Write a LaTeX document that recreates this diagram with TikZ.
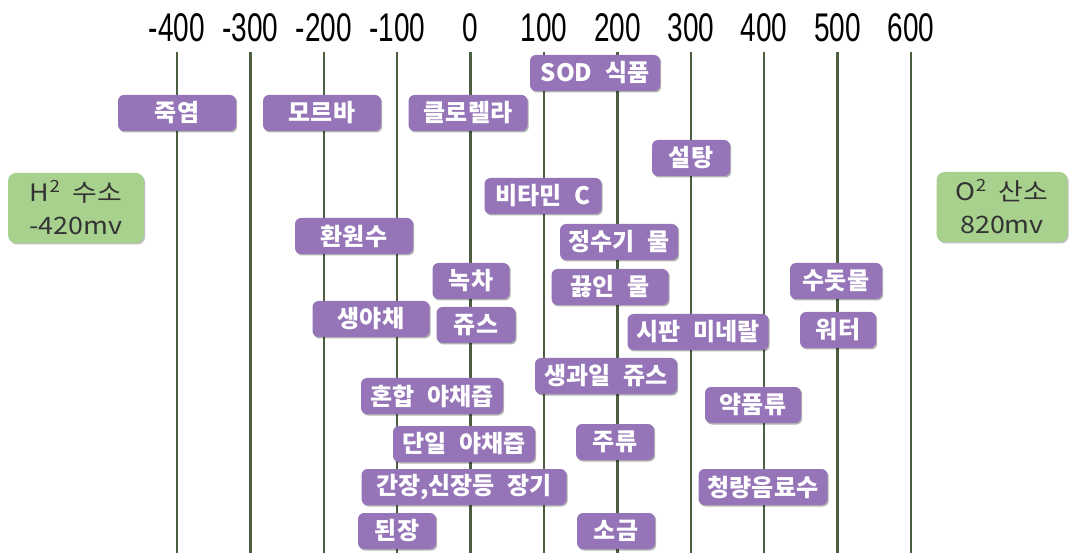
\documentclass[tikz,border=0pt]{standalone}
\usepackage{fontspec}
\setmainfont[WordSpace=2.3]{Noto Sans CJK KR}
\newfontfamily\gasfont[FakeStretch=1.12, WordSpace=2]{Noto Sans CJK KR}
\newfontfamily\numfont[FakeStretch=0.7]{Liberation Sans}
\usetikzlibrary{shadows}
\definecolor{tagpurple}{HTML}{9575B8}
\definecolor{taggreen}{HTML}{A9D18E}
\definecolor{axisline}{HTML}{4B5F40}

\begin{document}
\begin{tikzpicture}[x=1pt,y=-1pt,
    tag/.style={fill=tagpurple, rounded corners=6pt, text=white,
      font=\fontsize{24}{26}\selectfont\bfseries, minimum height=36pt, inner sep=0pt,
      drop shadow={shadow xshift=1.2pt, shadow yshift=-1.5pt, fill=black, opacity=0.3}},
    gas/.style={fill=taggreen, rounded corners=8pt, text=black!80, align=center,
      font=\gasfont\fontsize{24}{33}\selectfont, minimum height=70pt, inner sep=0pt,
      drop shadow={shadow xshift=1.2pt, shadow yshift=-1.5pt, fill=black, opacity=0.25}},
    mv/.style={font=\numfont\fontsize{40}{40}\selectfont, inner sep=0pt}]
  \useasboundingbox (0,0) rectangle (1074,553);

  % scale and lines
  \foreach \v [count=\i from 0] in {-400,-300,...,600} {
    \node[mv] (mv\i) at (177+73.4*\i, 28) {\v};
    \draw[axisline, line width=2.4pt] (177+73.4*\i, 52) -- (177+73.4*\i, 553);
  }

  % end points
  \node[gas, minimum width=136pt] (hydrogen) at (76,208) {H\textsuperscript{2} 수소\\-420mv};
  \node[gas, minimum width=131pt] (oxygen) at (1002,207) {O\textsuperscript{2} 산소\\820mv};

  % foods and drinks
  \node[tag, minimum width=130pt] (sod) at (595,73) {SOD 식품};
  \node[tag, minimum width=118pt] (salt1) at (177,113) {죽염};
  \node[tag, minimum width=118pt] (morba) at (322,113) {모르바};
  \node[tag, minimum width=119pt] (chlorella) at (468,113) {클로렐라};
  \node[tag, minimum width=78pt] (sugar) at (691,158) {설탕};
  \node[tag, minimum width=117pt] (vitc) at (543,196) {비타민 C};
  \node[tag, minimum width=118pt] (reduced) at (354,236) {환원수};
  \node[tag, minimum width=118pt] (purified) at (619,242) {정수기 물};
  \node[tag, minimum width=77pt] (greentea) at (471,281) {녹차};
  \node[tag, minimum width=117pt] (boiled) at (610,287) {끓인 물};
  \node[tag, minimum width=92pt] (tap) at (836,281) {수돗물};
  \node[tag, minimum width=117pt] (veg) at (371,319) {생야채};
  \node[tag, minimum width=79pt] (juice) at (476,325) {쥬스};
  \node[tag, minimum width=141pt] (mineral) at (698,332) {시판 미네랄};
  \node[tag, minimum width=76pt] (water) at (838,330) {워터};
  \node[tag, minimum width=142pt] (fruitjuice) at (606,376) {생과일 쥬스};
  \node[tag, minimum width=142pt] (mixveg) at (432,396) {혼합 야채즙};
  \node[tag, minimum width=96pt] (drugs) at (753,405) {약품류};
  \node[tag, minimum width=142pt] (singleveg) at (464,444) {단일 야채즙};
  \node[tag, minimum width=78pt] (liquor) at (615,442) {주류};
  \node[tag, minimum width=205pt] (organs) at (464,487) {간장,신장등 장기};
  \node[tag, minimum width=129pt] (soda) at (763,487) {청량음료수};
  \node[tag, minimum width=78pt] (paste) at (397,531) {된장};
  \node[tag, minimum width=78pt] (salt2) at (616,531) {소금};
\end{tikzpicture}
\end{document}
